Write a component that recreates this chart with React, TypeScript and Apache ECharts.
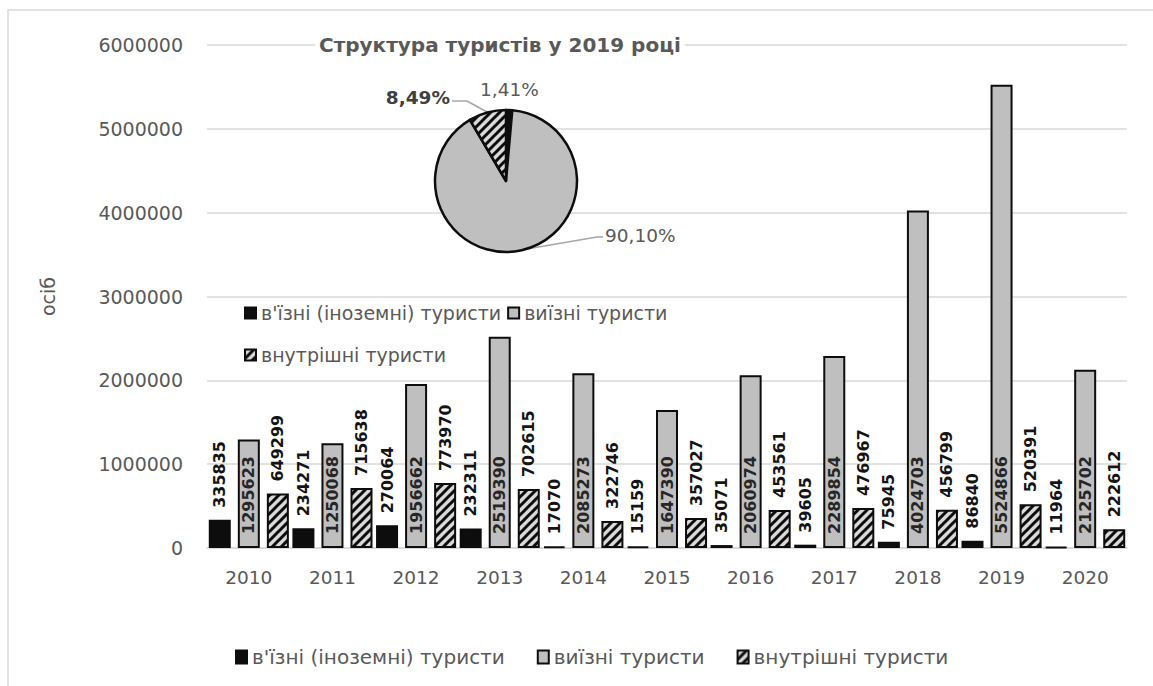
import React, { useEffect, useRef } from 'react';
import * as echarts from 'echarts';

const years = ['2010', '2011', '2012', '2013', '2014', '2015', '2016', '2017', '2018', '2019', '2020'];
const inbound = [335835, 234271, 270064, 232311, 17070, 15159, 35071, 39605, 75945, 86840, 11964];
const outbound = [1295623, 1250068, 1956662, 2519390, 2085273, 1647390, 2060974, 2289854, 4024703, 5524866, 2125702];
const domestic = [649299, 715638, 773970, 702615, 322746, 357027, 453561, 476967, 456799, 520391, 222612];
const seriesNames = ["в'їзні (іноземні) туристи", 'виїзні туристи', 'внутрішні туристи'];
const pieShares = [1.41, 90.1, 8.49];
const pieTitle = 'Структура туристів у 2019 році';
const yAxisName = 'осіб';
const yMin = 0;
const yMax = 6000000;
const yStep = 1000000;

const FONT = 'DejaVu Sans';

function makeHatch(): HTMLCanvasElement {
  const s = 9;
  const c = document.createElement('canvas');
  c.width = s;
  c.height = s;
  const ctx = c.getContext('2d')!;
  ctx.fillStyle = '#d9d9d9';
  ctx.fillRect(0, 0, s, s);
  ctx.strokeStyle = '#0d0d0d';
  ctx.lineWidth = 3;
  ctx.beginPath();
  ctx.moveTo(-2, s + 2);
  ctx.lineTo(s + 2, -2);
  ctx.moveTo(-2, 2);
  ctx.lineTo(2, -2);
  ctx.moveTo(s - 2, s + 2);
  ctx.lineTo(s + 2, s - 2);
  ctx.stroke();
  return c;
}

export default function App() {
  const ref = useRef<HTMLDivElement>(null);
  useEffect(() => {
    if (!ref.current) return;
    const chart = echarts.init(ref.current, undefined, { renderer: 'svg' });
    const hatchCanvas = makeHatch();
    const hatch: any = { image: hatchCanvas, repeat: 'repeat', imageWidth: hatchCanvas.width, imageHeight: hatchCanvas.height };
    const black = '#0d0d0d';
    const gray = '#bfbfbf';
    const fmt = (v: number) => v.toFixed(2).replace('.', ',') + '%';

    const barLabelTop = {
      show: true,
      position: 'top',
      rotate: 90,
      align: 'left',
      verticalAlign: 'middle',
      distance: 12,
      fontFamily: FONT,
      fontWeight: 'bold',
      fontSize: 16,
      color: '#141414',
    };

    const option: any = {
      animation: false,
      backgroundColor: '#ffffff',
      textStyle: { fontFamily: FONT },
      title: {
        text: pieTitle,
        left: 315,
        top: 33,
        padding: [2, 4],
        backgroundColor: '#ffffff',
        textStyle: { fontFamily: FONT, fontWeight: 'bold', fontSize: 20, color: '#595959' },
      },
      graphic: [
        {
          type: 'rect',
          shape: { x: 8, y: 10, width: 1400, height: 900 },
          style: { fill: 'none', stroke: '#d9d9d9', lineWidth: 1.5 },
          silent: true,
          z: -10,
        },
      ],
      legend: [
        {
          data: seriesNames,
          left: 239,
          top: 290,
          width: 450,
          orient: 'horizontal',
          icon: 'rect',
          itemWidth: 11,
          itemHeight: 11,
          itemGap: 6,
          textStyle: { fontFamily: FONT, fontSize: 19, color: '#595959', lineHeight: 36 },
        },
        {
          data: seriesNames,
          left: 230,
          top: 642,
          icon: 'rect',
          itemWidth: 11,
          itemHeight: 13,
          itemGap: 32,
          textStyle: { fontFamily: FONT, fontSize: 20, color: '#595959' },
        },
      ],
      grid: { left: 207, right: 26, top: 45, bottom: 138, containLabel: false },
      xAxis: {
        type: 'category',
        data: years,
        axisLine: { lineStyle: { color: '#d9d9d9', width: 1.5 } },
        axisTick: { show: false },
        axisLabel: { fontFamily: FONT, fontSize: 18.5, color: '#595959', margin: 20 },
      },
      yAxis: {
        type: 'value',
        min: yMin,
        max: yMax,
        interval: yStep,
        name: yAxisName,
        nameLocation: 'middle',
        nameRotate: 90,
        nameGap: 150,
        nameTextStyle: { fontFamily: FONT, fontSize: 19, color: '#595959' },
        axisLine: { show: false },
        axisTick: { show: false },
        splitLine: { lineStyle: { color: '#d9d9d9', width: 1.5 } },
        axisLabel: {
          fontFamily: FONT,
          fontSize: 19,
          color: '#595959',
          margin: 24,
          formatter: (v: number) => String(v),
        },
      },
      series: [
        {
          name: seriesNames[0],
          type: 'bar',
          data: inbound,
          barWidth: 22,
          barGap: '32%',
          itemStyle: { color: black, borderColor: black, borderWidth: 2 },
          label: barLabelTop,
        },
        {
          name: seriesNames[1],
          type: 'bar',
          data: outbound,
          barWidth: 22,
          barGap: '32%',
          itemStyle: { color: gray, borderColor: black, borderWidth: 2 },
          label: {
            ...barLabelTop,
            position: 'insideBottom',
            distance: 14,
            color: '#262626',
          },
        },
        {
          name: seriesNames[2],
          type: 'bar',
          data: domestic,
          barWidth: 22,
          barGap: '32%',
          itemStyle: { color: hatch, borderColor: black, borderWidth: 2 },
          label: barLabelTop,
        },
        {
          name: 'pie2019',
          type: 'pie',
          center: [506, 181],
          radius: 71,
          startAngle: 90,
          clockwise: true,
          z: 5,
          itemStyle: { borderColor: black, borderWidth: 2.5 },
          label: {
            show: true,
            position: 'outside',
            fontFamily: FONT,
            fontSize: 18.5,
            color: '#595959',
            formatter: (p: any) => fmt(p.value),
          },
          labelLine: { show: true, lineStyle: { color: '#a6a6a6', width: 1.5 } },
          labelLayout: (p: any) => {
            if (p.dataIndex === 0) return { x: 480, y: 89, align: 'left', verticalAlign: 'middle' };
            if (p.dataIndex === 1)
              return {
                x: 605,
                y: 235,
                align: 'left',
                verticalAlign: 'middle',
                labelLinePoints: [[521, 250], [597, 237], [603, 237]],
              };
            return {
              x: 450,
              y: 97,
              align: 'right',
              verticalAlign: 'middle',
              labelLinePoints: [[487, 112], [467, 101], [452, 101]],
            };
          },
          data: [
            { value: pieShares[0], name: seriesNames[0], itemStyle: { color: black }, labelLine: { show: false } },
            { value: pieShares[1], name: seriesNames[1], itemStyle: { color: gray } },
            {
              value: pieShares[2],
              name: seriesNames[2],
              itemStyle: { color: hatch },
              label: { fontWeight: 'bold', color: '#404040' },
            },
          ],
        },
      ],
    };
    chart.setOption(option);
    return () => chart.dispose();
  }, []);
  return <div ref={ref} style={{ position: 'absolute', left: 0, top: 0, width: 1153, height: 686 }} />;
}
